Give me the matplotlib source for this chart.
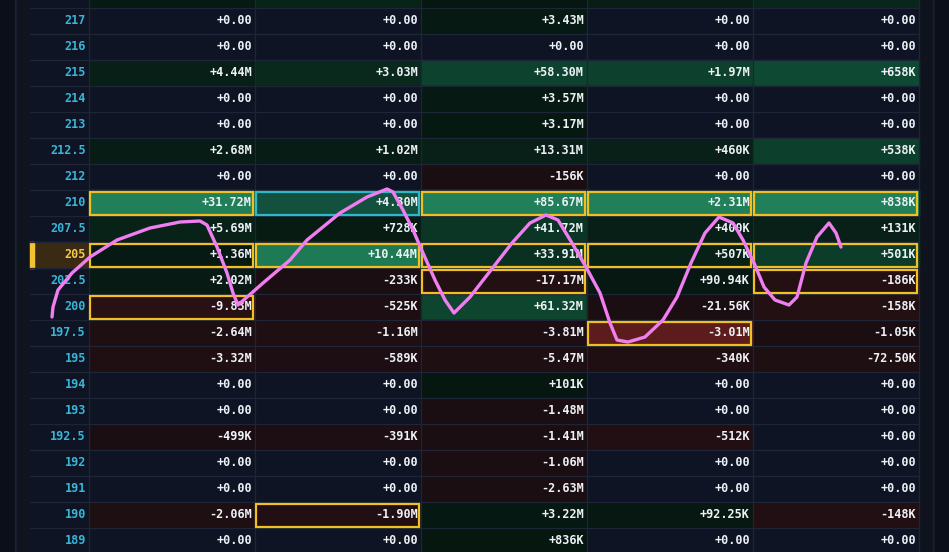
import numpy as np
import matplotlib.pyplot as plt
from matplotlib.patches import Rectangle

plt.rcParams['font.family'] = ['DejaVu Sans Mono', 'DejaVu Sans']

# ---- data ----
strikes = ['217', '216', '215', '214', '213', '212.5', '212', '210', '207.5', '205',
           '202.5', '200', '197.5', '195', '194', '193', '192.5', '192', '191', '190', '189']
col1 = ['+0.00', '+0.00', '+4.44M', '+0.00', '+0.00', '+2.68M', '+0.00', '+31.72M', '+5.69M', '+1.36M',
        '+2.02M', '-9.83M', '-2.64M', '-3.32M', '+0.00', '+0.00', '-499K', '+0.00', '+0.00', '-2.06M', '+0.00']
col2 = ['+0.00', '+0.00', '+3.03M', '+0.00', '+0.00', '+1.02M', '+0.00', '+4.30M', '+728K', '+10.44M',
        '-233K', '-525K', '-1.16M', '-589K', '+0.00', '+0.00', '-391K', '+0.00', '+0.00', '-1.90M', '+0.00']
col3 = ['+3.43M', '+0.00', '+58.30M', '+3.57M', '+3.17M', '+13.31M', '-156K', '+85.67M', '+41.72M', '+33.91M',
        '-17.17M', '+61.32M', '-3.81M', '-5.47M', '+101K', '-1.48M', '-1.41M', '-1.06M', '-2.63M', '+3.22M', '+836K']
col4 = ['+0.00', '+0.00', '+1.97M', '+0.00', '+0.00', '+460K', '+0.00', '+2.31M', '+400K', '+507K',
        '+90.94K', '-21.56K', '-3.01M', '-340K', '+0.00', '+0.00', '-512K', '+0.00', '+0.00', '+92.25K', '+0.00']
col5 = ['+0.00', '+0.00', '+658K', '+0.00', '+0.00', '+538K', '+0.00', '+838K', '+131K', '+501K',
        '-186K', '-158K', '-1.05K', '-72.50K', '+0.00', '+0.00', '+0.00', '+0.00', '+0.00', '-148K', '+0.00']
columns = [col1, col2, col3, col4, col5]
# row cut off at the top (only its colour shows)
top_row = ['+2.0M', '+3.0M', '+2.0M', '+0.5M', '+0.3M']

current_strike = '205'
# boxed cells: (strike, column index, colour)
boxed = [('210', 0, 'y'), ('210', 1, 'c'), ('210', 2, 'y'), ('210', 3, 'y'), ('210', 4, 'y'),
         ('205', 0, 'y'), ('205', 1, 'y'), ('205', 2, 'y'), ('205', 3, 'y'), ('205', 4, 'y'),
         ('202.5', 2, 'y'), ('202.5', 4, 'y'), ('200', 0, 'y'), ('197.5', 3, 'y'), ('190', 1, 'y')]

# hand drawn pink scribble (pixel coords of the screenshot)
scribble_x = [52, 53, 58, 72, 90, 117, 150, 180, 200, 207, 217, 227, 233, 238, 263, 290, 307, 340, 367,
              387, 393, 403, 413, 423, 435, 445, 454, 470, 491, 512, 530, 546, 558, 572, 586, 600, 610,
              617, 628, 645, 663, 677, 691, 705, 719, 733, 743, 754, 764, 775, 789, 797, 806, 817, 829,
              836, 841]
scribble_y = [317, 307, 290, 273, 257, 240, 228, 222, 221, 225, 247, 273, 293, 305, 283, 260, 240, 213, 197,
              189, 192, 210, 230, 253, 280, 300, 313, 297, 270, 243, 223, 215, 220, 243, 267, 293, 323,
              340, 342, 337, 320, 297, 263, 233, 217, 223, 240, 263, 287, 300, 305, 297, 263, 237, 223,
              233, 247]


def parse(s):
    mult = {'M': 1e6, 'K': 1e3}
    if s[-1] in mult:
        return float(s[:-1]) * mult[s[-1]]
    return float(s)


def blend(a, b, t):
    return tuple((a[i] + (b[i] - a[i]) * t) / 255 for i in range(3))


zero_c = (14, 20, 36)
pos_lo, pos_hi, pos_max = (6, 22, 16), (16, 88, 60), (30, 122, 85)
neg_lo, neg_hi, neg_max = (26, 14, 18), (70, 22, 24), (92, 28, 28)


def cell_colour(v, vmax):
    if v == 0:
        return tuple(c / 255 for c in zero_c)
    t = abs(v) / vmax
    if t >= 0.999:
        c = pos_max if v > 0 else neg_max
        return tuple(x / 255 for x in c)
    if v > 0:
        return blend(pos_lo, pos_hi, t)
    return blend(neg_lo, neg_hi, t)


fig = plt.figure(figsize=(9.49, 5.52), dpi=100)
fig.patch.set_facecolor('#0b0f1a')
ax = fig.add_axes([0, 0, 1, 1])
ax.set_xlim(0, 949)
ax.set_ylim(552, 0)
ax.axis('off')

row_h = 26
top = 8
strike_x0, strike_x1 = 30, 89
col_w = 166
table_x1 = strike_x1 + col_w * 5
fs = 8.5

# side strips
ax.add_patch(Rectangle((0, 0), 15, 552, color='#0b0f19', zorder=0))
ax.add_patch(Rectangle((15, 0), 2, 552, color='#1b2130', zorder=0))
ax.add_patch(Rectangle((17, 0), 13, 552, color='#10141f', zorder=0))
ax.add_patch(Rectangle((table_x1, 0), 14, 552, color='#0f131e', zorder=0))
ax.add_patch(Rectangle((table_x1 + 14, 0), 2, 552, color='#1a1f2c', zorder=0))
ax.add_patch(Rectangle((table_x1 + 16, 0), 949, 552, color='#0b0f19', zorder=0))
ax.add_patch(Rectangle((strike_x0, -30), strike_x1 - strike_x0, 600, color='#0e1423', zorder=0))

vmaxes = [max(abs(parse(s)) for s in col) for col in columns]

# partial top row
for j, s in enumerate(top_row):
    x0 = strike_x1 + j * col_w
    ax.add_patch(Rectangle((x0, top - row_h), col_w, row_h,
                           color=cell_colour(parse(s), vmaxes[j] * 1.5), zorder=1))

for i, k in enumerate(strikes):
    y0 = top + i * row_h
    yc = y0 + row_h / 2
    if k == current_strike:
        ax.add_patch(Rectangle((strike_x0, y0), strike_x1 - strike_x0, row_h, color='#3a2a14', zorder=1))
        ax.add_patch(Rectangle((strike_x0, y0), 4, row_h, color='#f2c230', zorder=2))
        ax.text(strike_x1 - 3, yc, k, color='#f2c94c', fontsize=fs, fontweight='bold',
                ha='right', va='center', zorder=5)
    else:
        ax.text(strike_x1 - 3, yc, k, color='#38b6d8', fontsize=fs, fontweight='bold',
                ha='right', va='center', zorder=5)
    for j, col in enumerate(columns):
        x0 = strike_x1 + j * col_w
        v = parse(col[i])
        fc = cell_colour(v, vmaxes[j])
        ax.add_patch(Rectangle((x0, y0), col_w, row_h, color=fc, zorder=1))
        ax.text(x0 + col_w - 3, yc, col[i], color='#eef1f6', fontsize=fs, fontweight='bold',
                ha='right', va='center', zorder=5)

# grid lines
for i in range(len(strikes) + 1):
    y = top + i * row_h
    ax.plot([strike_x0, table_x1], [y, y], color='#1d2536', lw=0.9, zorder=2)
for j in range(6):
    x = strike_x1 + j * col_w
    ax.plot([x, x], [-5, 560], color='#1d2536', lw=0.9, zorder=2)

# boxed cells
idx = {k: i for i, k in enumerate(strikes)}
for k, j, c in boxed:
    y0 = top + idx[k] * row_h
    x0 = strike_x1 + j * col_w
    ec = '#f0c020' if c == 'y' else '#2fb8c8'
    if k == '210':
        glow = blend(pos_max, (40, 140, 100), 0.3) if c == 'y' else blend((20, 80, 62), (20, 80, 62), 0)
        ax.add_patch(Rectangle((x0 + 2, y0 + 2), col_w - 4, row_h - 4, color=glow, zorder=1.5))
    ax.add_patch(Rectangle((x0 + 1.5, y0 + 1.5), col_w - 3, row_h - 3, fill=False,
                           ec=ec, lw=1.6, zorder=3))

# pink scribble
ax.plot(scribble_x, scribble_y, color='#f07ef0', lw=2.4, solid_capstyle='round',
        solid_joinstyle='round', zorder=6)

fig.savefig('out.png', dpi=100, facecolor=fig.get_facecolor())
